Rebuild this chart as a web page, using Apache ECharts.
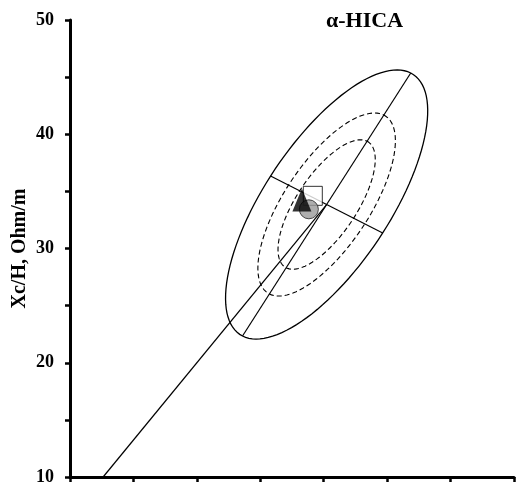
<!DOCTYPE html>
<html>
<head>
<meta charset="utf-8">
<script src="https://cdn.jsdelivr.net/npm/echarts@6/dist/echarts.min.js"></script>
<style>
  html, body { margin: 0; padding: 0; background: #fff; }
  #main { width: 520px; height: 496px; }
</style>
</head>
<body>
<div id="main"></div>
<script>
// R/H axis has no printed labels in the picture, so its scale is only a guess
var xTicks = [200, 550, 50];
var yTicks = [10, 50, 5];

// 95% tolerance ellipse: mean vector and the ends of its two diameters
var ellCenter = [402.3, 33.85];
var ellMajorTip = [468.6, 45.36];
var ellMinorTip = [446.5, 31.36];
// tolerance levels drawn (50%, 75% dashed, 95% solid)
var ellLevels = [0.50, 0.75, 0.95];

// line from the x axis to the mean vector
var trendLine = [[226.1, 10], [402.3, 33.85]];

// group means
var squarePt = [[391.4, 34.61]];
var circlePt = [[388.3, 33.43]];
var trianglePt = [[382.8, 34.25]];

var serif = 'Liberation Serif';

function scaleOf(p) {//chi-square radius relative to the 95% one
    return Math.sqrt(-2 * Math.log(1 - p)) / Math.sqrt(-2 * Math.log(1 - 0.95));
}

var u = [ellMajorTip[0] - ellCenter[0], ellMajorTip[1] - ellCenter[1]];
var v = [ellMinorTip[0] - ellCenter[0], ellMinorTip[1] - ellCenter[1]];

var myChart = echarts.init(document.getElementById('main'));

var option = {
    animation: false,
    backgroundColor: '#fff',
    title: {
        text: 'α-HICA',
        left: 321,
        top: 5,
        textStyle: {fontFamily: serif, fontWeight: 'bold', fontSize: 22, color: '#000'}
    },
    grid: {left: 70, right: 6, top: 20, bottom: 19, outerBoundsMode: 'none'},
    xAxis: {
        type: 'value',
        min: xTicks[0], max: xTicks[1], interval: xTicks[2],
        axisLine: {lineStyle: {color: '#000', width: 3}},
        axisTick: {length: 5, lineStyle: {color: '#000', width: 2.5}},
        axisLabel: {show: false},
        splitLine: {show: false}
    },
    yAxis: {
        type: 'value',
        min: yTicks[0], max: yTicks[1], interval: yTicks[2],
        name: 'Xc/H, Ohm/m',
        nameLocation: 'middle',
        nameGap: 40,
        nameMoveOverlap: false,
        nameTextStyle: {fontFamily: serif, fontWeight: 'bold', fontSize: 20, color: '#000'},
        axisLine: {lineStyle: {color: '#000', width: 3}},
        axisTick: {length: 5, lineStyle: {color: '#000', width: 2.5}},
        axisLabel: {
            margin: 16,
            fontFamily: serif, fontWeight: 'bold', fontSize: 18, color: '#000',
            formatter: function (val) { return val % 10 === 0 ? String(val) : ''; }
        },
        splitLine: {show: false}
    },
    series: [
        {
            type: 'custom',
            data: ellLevels,
            silent: true,
            renderItem: function (params, api) {
                var p = ellLevels[params.dataIndex];
                var s = scaleOf(p);
                var pts = [];
                for (var i = 0; i <= 120; i++) {
                    var t = i / 120 * Math.PI * 2;
                    var c = Math.cos(t) * s, n = Math.sin(t) * s;
                    pts.push(api.coord([
                        ellCenter[0] + c * u[0] + n * v[0],
                        ellCenter[1] + c * u[1] + n * v[1]
                    ]));
                }
                return {
                    type: 'polyline',
                    shape: {points: pts},
                    style: {
                        fill: null,
                        stroke: '#000',
                        lineWidth: p === 0.95 ? 1.3 : 1.1,
                        lineDash: p === 0.95 ? null : [5, 3]
                    }
                };
            }
        },
        {//diameters of the 95% ellipse
            type: 'lines',
            coordinateSystem: 'cartesian2d',
            silent: true,
            lineStyle: {color: '#000', width: 1.2, opacity: 1},
            data: [
                {coords: [[ellCenter[0] - u[0], ellCenter[1] - u[1]], ellMajorTip]},
                {coords: [[ellCenter[0] - v[0], ellCenter[1] - v[1]], ellMinorTip]},
                {coords: trendLine}
            ]
        },
        {
            type: 'scatter', data: squarePt, symbol: 'rect', symbolSize: 19,
            itemStyle: {color: '#fff', borderColor: '#000', borderWidth: 1}
        },
        {
            type: 'scatter', data: circlePt, symbol: 'circle', symbolSize: 19,
            itemStyle: {color: '#9a9a9a', borderColor: '#222', borderWidth: 1}
        },
        {
            type: 'scatter', data: trianglePt, symbol: 'triangle', symbolSize: [19, 23],
            itemStyle: {color: '#000', borderColor: '#000', borderWidth: 0}
        }
    ]
};

myChart.setOption(option);
</script>
</body>
</html>
